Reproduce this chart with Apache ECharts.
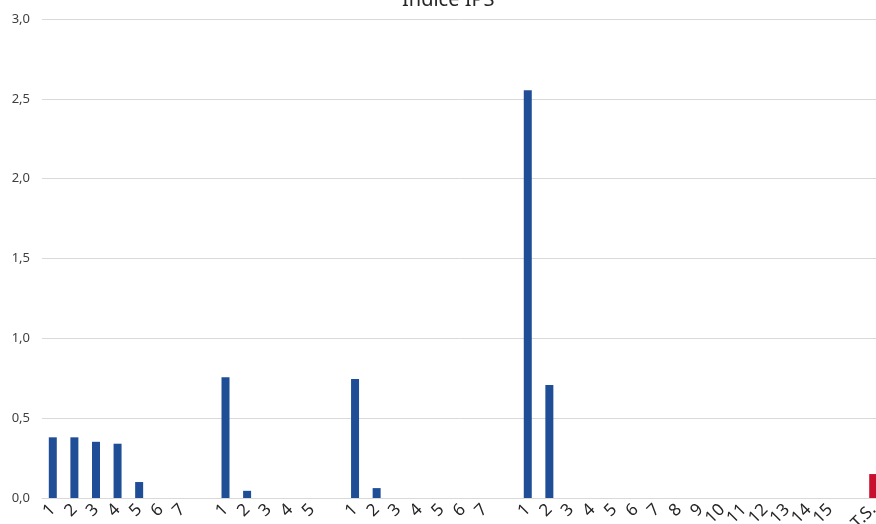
<!DOCTYPE html>
<html>
<head>
<meta charset="utf-8">
<script src="https://cdn.jsdelivr.net/npm/echarts@6/dist/echarts.min.js"></script>
<style>
html,body{margin:0;padding:0;background:#fff;}
#c{width:876px;height:524px;}
</style>
</head>
<body>
<div id="c"></div>
<script>
const titleText = 'Indice IPS';
const categories = [
  '1','2','3','4','5','6','7','',
  '1','2','3','4','5','',
  '1','2','3','4','5','6','7','',
  '1','2','3','4','5','6','7','8','9','10','11','12','13','14','15','',
  'T.S.'
];
const values = [
  0.38,0.38,0.352,0.34,0.10,0,0,null,
  0.757,0.045,0,0,0,null,
  0.745,0.062,0,0,0,0,0,null,
  2.553,0.707,0,0,0,0,0,0,0,0,0,0,0,0,0,null,
  0.15
];
const yTicks = [0,0.5,1.0,1.5,2.0,2.5,3.0];
const totalLabel = 'T.S.';

const blue = '#1F4E97';
const red = '#C8102E';

const seriesData = values.map((v, i) => ({
  value: v,
  itemStyle: { color: categories[i] === totalLabel ? red : blue }
}));

const chart = echarts.init(document.getElementById('c'), null, {renderer:'canvas'});
chart.setOption({
  animation: false,
  backgroundColor: '#fff',
  title: {
    text: titleText,
    left: 397,
    top: -15,
    textStyle: { fontFamily: 'Noto Sans', fontSize: 20, fontWeight: 'normal', color: '#262626' }
  },
  grid: { left: 42, top: 19, width: 842, height: 479, containLabel: false, outerBoundsMode: 'none' },
  xAxis: {
    type: 'category',
    data: categories,
    axisTick: { show: false },
    axisLine: { lineStyle: { color: '#d9d9d9', width: 1 } },
    axisLabel: {
      interval: 0,
      rotate: 45,
      margin: 9,
      fontFamily: 'Noto Sans',
      fontSize: 17,
      color: '#262626'
    }
  },
  yAxis: {
    type: 'value',
    min: yTicks[0],
    max: yTicks[yTicks.length - 1],
    interval: 0.5,
    axisLine: { show: false },
    axisTick: { show: false },
    splitLine: { lineStyle: { color: '#d9d9d9', width: 1 } },
    axisLabel: {
      margin: 12,
      fontFamily: 'Noto Sans',
      fontSize: 13,
      color: '#404040',
      formatter: v => v.toFixed(1).replace('.', ',')
    }
  },
  series: [{
    type: 'bar',
    data: seriesData,
    barWidth: 8
  }]
});
</script>
</body>
</html>
